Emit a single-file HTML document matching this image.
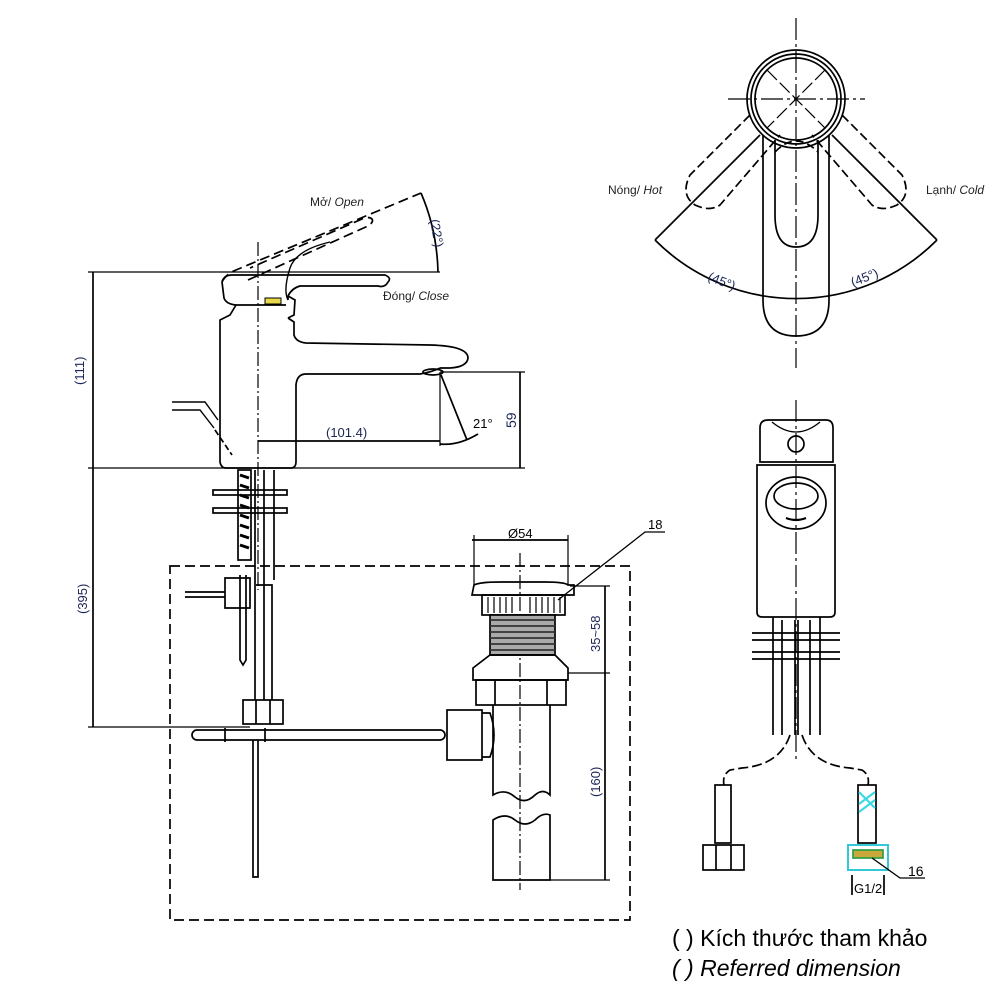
<!DOCTYPE html>
<html><head><meta charset="utf-8"><style>
html,body{margin:0;padding:0;background:#fff;width:1000px;height:1000px;overflow:hidden}
svg{display:block}
text{font-family:"Liberation Sans",sans-serif}
</style></head><body>
<svg width="1000" height="1000" viewBox="0 0 1000 1000" xmlns="http://www.w3.org/2000/svg">
<g fill="none" stroke="#000" stroke-width="1.7">
<!-- ===== SIDE VIEW ===== -->
<line x1="93" y1="272" x2="93" y2="727"/>
<line x1="88" y1="272" x2="440" y2="272" stroke-width="1.2"/>
<line x1="88" y1="468" x2="525" y2="468" stroke-width="1.2"/>
<line x1="88" y1="727" x2="250" y2="727" stroke-width="1.2"/>
<line x1="258" y1="242" x2="258" y2="590" stroke-dasharray="14,3,2,3" stroke-width="1.2"/>
<path d="M222,282 Q224,275 232,275 L385,275 Q392,278 388,282 Q385,288 378,286 L300,286 Q292,288 288,296 L288,300"/>
<path d="M222,282 L224,298 Q226,304 236,305 L286,305"/>
<path d="M288,296 L295,300 L294,315 L288,318"/>
<rect x="265" y="298" width="16" height="6" fill="#e6d84a" stroke-width="1"/>
<path d="M236,305 L230,315 L220,320 L220,462 Q221,468 226,468 L292,468 Q296,467 296,462 L296,385 Q297,374 306,374 L420,374 Q432,372 440,368"/>
<path d="M288,318 L294,322 L294,335 Q296,342 306,343 L430,345 Q468,346 468,358 Q467,367 450,368 L440,368"/>
<ellipse cx="433" cy="372" rx="10" ry="3"/>
<path d="M172,402 L205,402 L218,420 M172,410 L200,410 L214,428" stroke-width="1.4"/>
<line x1="215" y1="430" x2="232" y2="455" stroke-dasharray="6,3"/>
<path d="M222,282 Q226,274 236,270 L421,193" stroke-dasharray="10,5"/>
<path d="M248,280 L368,226 Q374,222 372,219 Q369,216 362,219 L250,268" stroke-dasharray="10,5"/>
<path d="M288,300 Q283,290 290,268 Q296,250 330,242" stroke-width="1.4"/>
<path d="M421,193 Q437,230 438,272"/>
<line x1="440" y1="372" x2="525" y2="372" stroke-width="1.2"/>
<line x1="520" y1="372" x2="520" y2="468"/>
<line x1="258" y1="441" x2="440" y2="441"/>
<line x1="440" y1="372" x2="440" y2="446" stroke-width="1.2"/>
<line x1="441" y1="375" x2="467" y2="440"/>
<path d="M440,444 Q458,446 478,434"/>
<rect x="238" y="470" width="13" height="90" fill="#fff"/>
<path d="M240,475 L249,478 M240,485 L249,488 M240,495 L249,498 M240,505 L249,508 M240,515 L249,518 M240,525 L249,528 M240,535 L249,538 M240,545 L249,548" stroke-width="3"/>
<path d="M255,470 L255,700 M274,470 L274,580 M264,470 L264,700" />
<rect x="213" y="490" width="74" height="5"/>
<rect x="213" y="508" width="74" height="5"/>
<path d="M225,578 L250,578 L250,608 L225,608 Z"/>
<path d="M185,592 L225,592 M185,597 L225,597"/>
<path d="M240,575 L240,660 L243,665 L246,660 L246,575"/>
<path d="M256,585 L272,585 L272,700"/>
<rect x="243" y="700" width="40" height="24"/>
<path d="M256,700 L256,724 M270,700 L270,724"/>
<rect x="192" y="730" width="253" height="10" rx="5"/>
<path d="M225,728 L225,742 M265,728 L265,742"/>
<path d="M253,740 L253,877 L258,877 L258,740"/>
<rect x="170" y="566" width="460" height="354" stroke-dasharray="10,5"/>
<line x1="520" y1="553" x2="520" y2="890" stroke-dasharray="14,3,2,3" stroke-width="1.2"/>
<line x1="472" y1="540" x2="568" y2="540"/>
<line x1="474" y1="535" x2="474" y2="585" stroke-width="1.2"/>
<line x1="568" y1="535" x2="568" y2="585" stroke-width="1.2"/>
<path d="M474,585 Q480,582 500,582 L545,582 Q565,582 568,585 L574,585 L574,595 L472,595 Z"/>
<rect x="482" y="595" width="83" height="20"/>
<path d="M488,597 L488,613 M494,597 L494,613 M500,597 L500,613 M506,597 L506,613 M512,597 L512,613 M530,597 L530,613 M536,597 L536,613 M542,597 L542,613 M548,597 L548,613 M554,597 L554,613 M560,597 L560,613" stroke-width="1.2"/>
<rect x="490" y="615" width="65" height="40" fill="#aaa"/>
<path d="M490,620 L555,620 M490,626 L555,626 M490,632 L555,632 M490,638 L555,638 M490,644 L555,644 M490,650 L555,650" stroke="#333"/>
<path d="M490,655 L555,655 L568,668 L568,680 L473,680 L473,668 Z"/>
<rect x="476" y="680" width="90" height="25"/>
<path d="M495,680 L495,705 M547,680 L547,705"/>
<path d="M493,705 L493,795 Q505,788 515,797 Q525,805 535,795 Q543,788 550,795 L550,705"/>
<path d="M493,880 L493,820 Q505,812 515,820 Q525,828 535,820 Q543,812 550,815 L550,880 Z"/>
<rect x="447" y="710" width="35" height="50"/>
<path d="M482,713 L490,713 Q498,735 490,757 L482,757"/>
<line x1="570" y1="586" x2="610" y2="586" stroke-width="1.2"/>
<line x1="568" y1="673" x2="610" y2="673" stroke-width="1.2"/>
<line x1="550" y1="880" x2="610" y2="880" stroke-width="1.2"/>
<line x1="605" y1="586" x2="605" y2="880"/>
<path d="M558,600 L645,532 L665,532" stroke-width="1.3"/>
<!-- ===== TOP VIEW ===== -->
<line x1="796" y1="18" x2="796" y2="368" stroke-dasharray="22,4,3,4" stroke-width="1.2"/>
<line x1="728" y1="99" x2="865" y2="99" stroke-dasharray="22,4,3,4" stroke-width="1.2"/>
<circle cx="796" cy="99" r="49"/>
<circle cx="796" cy="99" r="45"/>
<circle cx="796" cy="99" r="41"/>
<path d="M767,70 L825,128 M825,70 L767,128" stroke-dasharray="14,4" stroke-width="1.2"/>
<path d="M763,135 L763,300 Q763,336 796,336 Q829,336 829,300 L829,135"/>
<path d="M775,140 L775,215 Q775,247 796,247 Q818,247 818,215 L818,140"/>
<path d="M775,152 Q796,130 818,152" stroke-dasharray="8,4"/>
<path d="M750,115 L690,175 Q680,195 695,205 Q710,212 720,205 L780,135" stroke-dasharray="9,4"/>
<path d="M842,115 L902,175 Q912,195 897,205 Q882,212 872,205 L812,135" stroke-dasharray="9,4"/>
<line x1="760" y1="135" x2="655" y2="240"/>
<line x1="832" y1="135" x2="937" y2="240"/>
<path d="M655,240 A199,199 0 0,0 937,240"/>
<!-- ===== FRONT VIEW ===== -->
<line x1="796" y1="400" x2="796" y2="760" stroke-dasharray="22,4,3,4" stroke-width="1.2"/>
<path d="M760,462 L760,428 Q760,420 768,420 L826,420 Q833,420 833,428 L833,462 Z"/>
<path d="M772,422 Q796,442 820,422" stroke-width="1.3"/>
<circle cx="796" cy="444" r="8"/>
<path d="M757,465 L835,465 L835,612 Q835,617 830,617 L762,617 Q757,617 757,612 Z"/>
<ellipse cx="796" cy="503" rx="30" ry="26"/>
<ellipse cx="796" cy="496" rx="22" ry="13"/>
<path d="M786,518 Q796,522 806,518" stroke-width="2.2"/>
<path d="M773,617 L773,735 M820,617 L820,735 M782,620 L782,735 M810,620 L810,735 M795,620 L795,735 M798,620 L798,735"/>
<path d="M752,633 L840,633 M752,640 L840,640 M752,652 L840,652 M752,659 L840,659"/>
<path d="M790,735 Q780,765 742,768 L730,770 Q722,775 724,785" stroke-dasharray="10,4"/>
<path d="M802,735 Q812,765 850,768 L862,770 Q870,775 868,785" stroke-dasharray="10,4"/>
<rect x="715" y="785" width="16" height="58"/>
<rect x="703" y="845" width="41" height="25"/>
<path d="M716,845 L716,870 M731,845 L731,870"/>
<rect x="858" y="785" width="18" height="58"/>
<path d="M859,792 L875,808 M859,804 L875,792 M859,812 L875,800" stroke="#3cd8e6" stroke-width="2.2"/>
<rect x="848" y="845" width="40" height="25" stroke="#33c8d8" stroke-width="2"/>
<rect x="853" y="850" width="30" height="8" fill="#caa83a" stroke="#2aa048"/>
<path d="M852,875 L852,895 M884,875 L884,895"/>
<path d="M872,858 L900,878 L925,878" stroke-width="1.3"/>
</g>
<g fill="#1a2456" font-size="13">
<text transform="translate(84,385) rotate(-90)">(111)</text>
<text transform="translate(87,614) rotate(-90)">(395)</text>
<text x="326" y="437">(101.4)</text>
<text transform="translate(516,428) rotate(-90)" font-size="14">59</text>
<text x="473" y="428" fill="#000">21°</text>
<text transform="translate(430,220) rotate(80)">(22°)</text>
<text x="508" y="538" fill="#000">Ø54</text>
<text transform="translate(600,652) rotate(-90)">35~58</text>
<text transform="translate(600,797) rotate(-90)">(160)</text>
<text x="648" y="529" fill="#000">18</text>
<text x="908" y="876" fill="#000" font-size="14">16</text>
<text x="854" y="893" fill="#000" font-size="13">G1/2</text>
<text transform="translate(707,280) rotate(22)" font-size="13">(45°)</text>
<text transform="translate(853,287) rotate(-22)" font-size="13">(45°)</text>
</g>
<g fill="#222" font-size="12">
<text x="310" y="206">Mở/ <tspan font-style="italic">Open</tspan></text>
<text x="383" y="300">Đóng/ <tspan font-style="italic">Close</tspan></text>
<text x="608" y="194">Nóng/ <tspan font-style="italic">Hot</tspan></text>
<text x="926" y="194">Lạnh/ <tspan font-style="italic">Cold</tspan></text>
</g>
<g fill="#000" font-size="23">
<text x="672" y="946">(  ) Kích thước tham khảo</text>
<text x="672" y="976" font-style="italic">(  ) Referred dimension</text>
</g>
</svg>
</body></html>
